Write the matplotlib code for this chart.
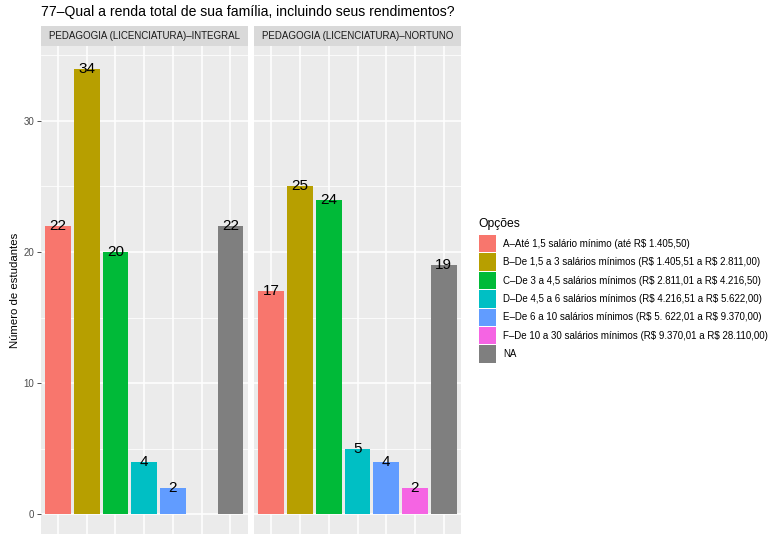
import matplotlib
matplotlib.use("Agg")
import matplotlib.pyplot as plt
from matplotlib.patches import Rectangle
import numpy as np

plt.rcParams['font.family'] = ['Liberation Sans', 'DejaVu Sans']
plt.rcParams['text.parse_math'] = False

title = "77–Qual a renda total de sua família, incluindo seus rendimentos?"
facets = ["PEDAGOGIA (LICENCIATURA)–INTEGRAL", "PEDAGOGIA (LICENCIATURA)–NORTUNO"]
categories = ["A", "B", "C", "D", "E", "F", "NA"]
legend_labels = [
    "A–Até 1,5 salário mínimo (até R$ 1.405,50)",
    "B–De 1,5 a 3 salários mínimos (R$ 1.405,51 a R$ 2.811,00)",
    "C–De 3 a 4,5 salários mínimos (R$ 2.811,01 a R$ 4.216,50)",
    "D–De 4,5 a 6 salários mínimos (R$ 4.216,51 a R$ 5.622,00)",
    "E–De 6 a 10 salários mínimos (R$ 5. 622,01 a R$ 9.370,00)",
    "F–De 10 a 30 salários mínimos (R$ 9.370,01 a R$ 28.110,00)",
    "NA",
]
colors = ["#F8766D", "#B79F00", "#00BA38", "#00BFC4", "#619CFF", "#F564E3", "#7F7F7F"]
integral = [22, 34, 20, 4, 2, None, 22]
noturno = [17, 25, 24, 5, 4, 2, 19]
yticks = [0, 10, 20, 30]
ylabel = "Número de estudantes"
legend_title = "Opções"

W, H = 769, 534
fig = plt.figure(figsize=(W / 100, H / 100), dpi=100)


def fx(px):
    return px / W


def fy(py):
    return 1 - py / H


ymax_val = max(max(v for v in integral if v is not None), max(noturno))
ylo, yhi = -0.05 * ymax_val, ymax_val * 1.05
panel_top, panel_bot = 46.3, 536.3
panels = [(40.7, 247.7), (254.0, 461.0)]
series = [integral, noturno]

for i, ((x0, x1), vals, ftitle) in enumerate(zip(panels, series, facets)):
    ax = fig.add_axes([fx(x0), fy(panel_bot), (x1 - x0) / W, (panel_bot - panel_top) / H])
    ax.set_facecolor("#EBEBEB")
    for s in ax.spines.values():
        s.set_visible(False)
    n = len(categories)
    ax.set_xlim(0.4, n + 0.6)
    ax.set_ylim(ylo, yhi)
    for m in [5, 15, 25, 35]:
        ax.axhline(m, color="white", lw=0.55, zorder=0)
    for t in yticks:
        ax.axhline(t, color="white", lw=1.1, zorder=0)
    for k in range(1, n + 1):
        ax.axvline(k, color="white", lw=1.1, zorder=0)
    xs = np.arange(1, n + 1)
    for k, v in enumerate(vals):
        if v is None:
            continue
        ax.bar(xs[k], v, width=0.9, color=colors[k], zorder=2)
        ax.text(xs[k], v, str(v), ha="center", va="center", fontsize=11,
                color="black", zorder=3)
    ax.set_xticks([])
    if i == 0:
        ax.set_yticks(yticks)
        ax.set_yticklabels([str(t) for t in yticks], fontsize=7.0, color="#4D4D4D")
        ax.tick_params(axis="y", length=2.75, width=0.6, color="#333333", pad=2)
    else:
        ax.set_yticks([])
    fig.patches.append(Rectangle((fx(x0), fy(46)), (x1 - x0) / W, 20 / H,
                                 transform=fig.transFigure, facecolor="#D9D9D9",
                                 edgecolor="none"))
    fig.text(fx((x0 + x1) / 2), fy(36), ftitle, ha="center", va="center",
             fontsize=7.0, color="#1A1A1A")

fig.text(fx(15), fy(290), ylabel, ha="center", va="center", rotation=90,
         fontsize=8.2, color="black")
fig.text(fx(41), fy(12), title, ha="left", va="center", fontsize=10.1, color="black")

fig.text(fx(478), fy(224), legend_title, ha="left", va="center", fontsize=8.7, color="black")
key_top, key_h, key_w = 234.5, 18.4, 18.4
for k, (lab, c) in enumerate(zip(legend_labels, colors)):
    top = key_top + k * key_h
    fig.patches.append(Rectangle((fx(478.5), fy(top + key_h - 0.5)), (key_w - 1) / W, (key_h - 1) / H,
                                 transform=fig.transFigure, facecolor=c, edgecolor="none"))
    fig.text(fx(503), fy(top + key_h / 2), lab, ha="left", va="center", fontsize=7.0,
             color="black")

fig.savefig("out.png", dpi=100)
